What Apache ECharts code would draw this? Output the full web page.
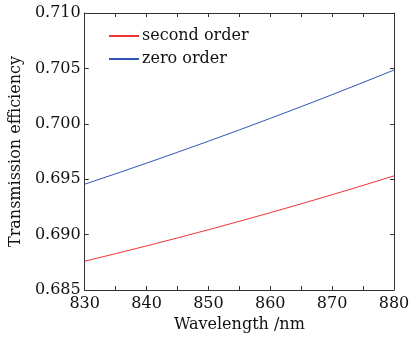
<!DOCTYPE html>
<html>
<head>
<meta charset="utf-8">
<script src="https://cdn.jsdelivr.net/npm/echarts@6/dist/echarts.min.js"></script>
<style>
  html, body { margin: 0; padding: 0; background: #fff; }
  #chart { width: 413px; height: 341px; }
</style>
</head>
<body>
<div id="chart"></div>
<script>
// wavelength (nm)
const wavelengths = [830, 835, 840, 845, 850, 855, 860, 865, 870, 875, 880];
// transmission efficiency
const secondOrder = [0.68760, 0.68828, 0.68898, 0.68970, 0.69044, 0.69120, 0.69198, 0.69278, 0.69360, 0.69444, 0.69530];
const zeroOrder = [0.69455, 0.69549, 0.69645, 0.69743, 0.69843, 0.69945, 0.70049, 0.70155, 0.70263, 0.70373, 0.70485];

const font = "DejaVu Serif";
const axisColor = "#333";

const chart = echarts.init(document.getElementById("chart"));

const pairs = (ys) => wavelengths.map((x, i) => [x, ys[i]]);

const tickRich = {
  t: { fontFamily: font, fontSize: 16, color: "#111" },
};

const option = {
  animation: false,
  textStyle: { fontFamily: font },
  grid: { left: 83, right: 19, top: 13, bottom: 51 },
  legend: {
    orient: "vertical",
    left: 103,
    top: 23,
    itemWidth: 30,
    itemHeight: 2,
    itemGap: 7,
    textStyle: { fontFamily: font, fontSize: 16, color: "#111", padding: [0, 0, 0, -2] },
    data: ["second order", "zero order"],
  },
  xAxis: [
    {
      type: "value",
      min: 830,
      max: 880,
      interval: 5,
      name: "Wavelength /nm",
      nameLocation: "middle",
      nameGap: 22,
      nameTextStyle: { fontFamily: font, fontSize: 16, color: "#111" },
      axisLine: { lineStyle: { color: axisColor, width: 1 } },
      axisTick: { inside: true, length: 4, lineStyle: { color: axisColor } },
      axisLabel: {
        fontFamily: font,
        fontSize: 16,
        color: "#111",
        margin: 6,
        rich: tickRich,
        formatter: (v) => (v % 10 === 0 ? "{t|" + v + "}" : ""),
      },
      splitLine: { show: false },
    },
    {
      type: "value",
      position: "top",
      min: 830,
      max: 880,
      interval: 5,
      axisLine: { show: true, lineStyle: { color: axisColor, width: 1 } },
      axisTick: { inside: true, length: 4, lineStyle: { color: axisColor } },
      axisLabel: { show: false },
      splitLine: { show: false },
    },
  ],
  yAxis: [
    {
      type: "value",
      min: 0.685,
      max: 0.71,
      interval: 0.005,
      name: "Transmission efficiency",
      nameLocation: "middle",
      nameGap: 60,
      nameTextStyle: { fontFamily: font, fontSize: 16, color: "#111" },
      axisLine: { show: true, lineStyle: { color: axisColor, width: 1 } },
      axisTick: { show: true, inside: true, length: 4, lineStyle: { color: axisColor } },
      axisLabel: {
        fontFamily: font,
        fontSize: 16,
        color: "#111",
        margin: 4,
        rich: tickRich,
        formatter: (v) => "{t|" + v.toFixed(3) + "}",
      },
      splitLine: { show: false },
    },
    {
      type: "value",
      position: "right",
      min: 0.685,
      max: 0.71,
      interval: 0.005,
      axisLine: { show: true, lineStyle: { color: axisColor, width: 1 } },
      axisTick: { show: true, inside: true, length: 4, lineStyle: { color: axisColor } },
      axisLabel: { show: false },
      splitLine: { show: false },
    },
  ],
  series: [
    {
      name: "second order",
      type: "line",
      symbol: "none",
      data: pairs(secondOrder),
      lineStyle: { color: "#f03434", width: 1 },
      itemStyle: { color: "#f03434" },
    },
    {
      name: "zero order",
      type: "line",
      symbol: "none",
      data: pairs(zeroOrder),
      lineStyle: { color: "#2f54b4", width: 1 },
      itemStyle: { color: "#2f54b4" },
    },
  ],
};

chart.setOption(option);
</script>
</body>
</html>
